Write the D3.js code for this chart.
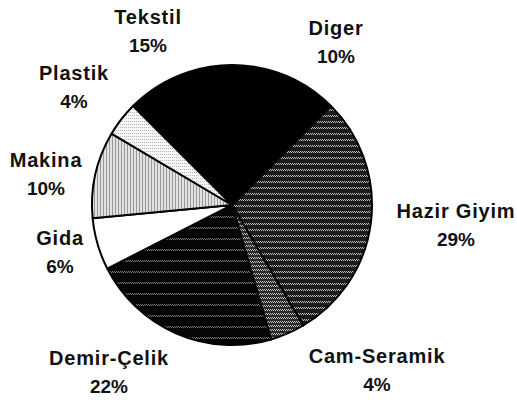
<!DOCTYPE html>
<html>
<head>
<meta charset="utf-8">
<script src="https://cdn.jsdelivr.net/npm/d3@7"></script>
<style>
  html, body { margin: 0; padding: 0; background: #fff; }
  svg { display: block; }
  .lbl { font-family: "Liberation Sans", Arial, sans-serif; font-weight: bold; fill: #111; }
</style>
</head>
<body>
<svg id="chart" width="517" height="400"></svg>
<script>
// Sector shares (%), clockwise from the top-left edge
var sectors = ["Tekstil", "Diger", "Hazir Giyim", "Cam-Seramik", "Demir-Çelik", "Gida", "Makina", "Plastik"];
var shares  = [15, 10, 29, 4, 22, 6, 10, 4];

// fills, one per sector (patterns defined below)
var fills = ["#000", "#000", "url(#pHazir)", "url(#pCam)", "url(#pDemir)", "#fff", "url(#pMakina)", "url(#pPlastik)"];

// where the labels sit: centre x, baseline of the name line
var labelAt = [[148, 24], [336, 35], [456, 218], [377, 363], [109, 365], [60, 245], [46, 167], [74, 80]];

var svg = d3.select("#chart"),
	cx = 232, cy = 205, r = 140;

// Texture patterns to imitate the scanned, dotted hatching

var defs = svg.append("defs");

// rows of dots: w x h tile, one dotted row at the top
function dotRows(id, base, dot, w, h, rows, op) {
	var p = defs.append("pattern")
		.attr("id", id)
		.attr("patternUnits", "userSpaceOnUse")
		.attr("width", w).attr("height", h);
	p.append("rect").attr("width", w).attr("height", h).attr("fill", base);
	for (var k = 0; k < rows; k++)
		for (var x = 0; x < w; x += 2)
			p.append("rect")
				.attr("x", x + (k % 2)).attr("y", k)
				.attr("width", 1).attr("height", 1)
				.attr("fill", dot)
				.attr("opacity", op);
}

function vStripes(id, base, line, step, op) {
	var p = defs.append("pattern")
		.attr("id", id)
		.attr("patternUnits", "userSpaceOnUse")
		.attr("width", step).attr("height", step);
	p.append("rect").attr("width", step).attr("height", step).attr("fill", base);
	p.append("rect").attr("width", 1).attr("height", step).attr("fill", line).attr("opacity", op);
}

dotRows("pHazir", "#1c1c1c", "#d0d0d0", 6, 6, 2, 0.9);
dotRows("pCam", "#2a2a2a", "#d0d0d0", 4, 4, 2, 0.9);
dotRows("pDemir", "#060606", "#9a9a9a", 8, 11, 2, 0.8);
vStripes("pMakina", "#e2e2e2", "#8a8a8a", 3, 0.85);
dotRows("pPlastik", "#f7f7f7", "#8a8a8a", 4, 3, 1, 0.6);

// Pie

var pie = d3.pie()
	.sort(null)
	.value(d => d)
	.startAngle(-Math.PI / 4)
	.endAngle(Math.PI * 7 / 4);

var arc = d3.arc()
	.innerRadius(0)
	.outerRadius(r);

var g = svg.append("g")
	.attr("transform", "translate(" + cx + "," + cy + ")");

g.selectAll("path")
	.data(pie(shares))
	.enter()
	.append("path")
	.attr("d", arc)
	.attr("fill", (d, i) => fills[i])
	.attr("stroke", "#000")
	.attr("stroke-width", 2)
	.attr("stroke-linejoin", "round");

// Labels: name over percentage

var labels = svg.append("g")
	.selectAll("g")
	.data(sectors)
	.enter()
	.append("g")
	.attr("transform", (d, i) => "translate(" + labelAt[i][0] + "," + labelAt[i][1] + ")");

labels.append("text")
	.attr("class", "lbl")
	.attr("text-anchor", "middle")
	.style("font-size", "20px")
	.style("letter-spacing", "0.8px")
	.text(d => d);

labels.append("text")
	.attr("class", "lbl")
	.attr("text-anchor", "middle")
	.attr("y", 28)
	.style("font-size", "19px")
	.text((d, i) => shares[i] + "%");
</script>
</body>
</html>
